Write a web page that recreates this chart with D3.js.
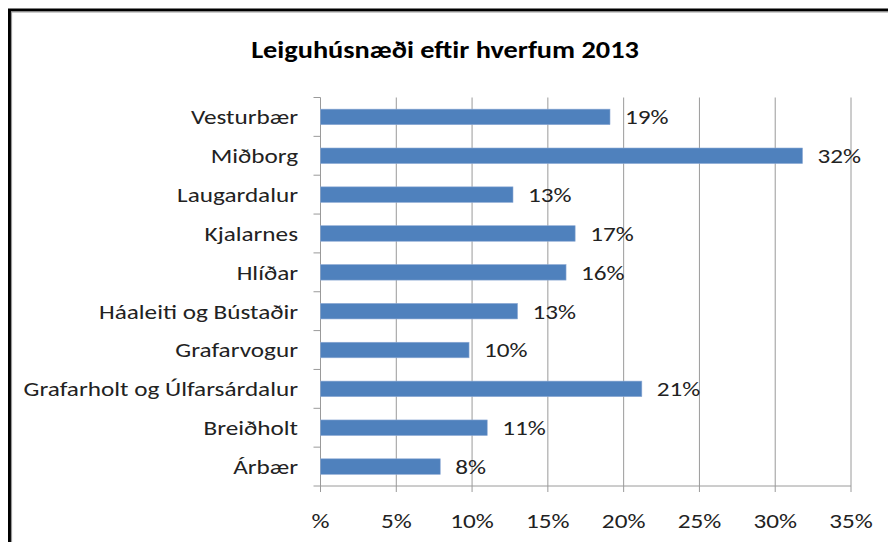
<!DOCTYPE html>
<html>
<head>
<meta charset="utf-8">
<script src="https://cdnjs.cloudflare.com/ajax/libs/d3/7.8.5/d3.min.js"></script>
<style>
  body { margin: 0; background: #fff; }
  svg { display: block; font-family: Carlito, Lato, "Liberation Sans", sans-serif; }
</style>
</head>
<body>
<div id="chart"></div>
<script>
// gögn lesin af myndinni
const hverfi = ['Vesturbær', 'Miðborg', 'Laugardalur', 'Kjalarnes', 'Hlíðar',
    'Háaleiti og Bústaðir', 'Grafarvogur', 'Grafarholt og Úlfarsárdalur', 'Breiðholt', 'Árbær'];
const hlutfall = [0.191, 0.318, 0.127, 0.168, 0.162, 0.130, 0.098, 0.212, 0.110, 0.079];
const gildiMerki = ['19%', '32%', '13%', '17%', '16%', '13%', '10%', '21%', '11%', '8%'];
const xTicks = [0, 0.05, 0.10, 0.15, 0.20, 0.25, 0.30, 0.35];
const xTickLabels = ['%', '5%', '10%', '15%', '20%', '25%', '30%', '35%'];

const W = 888, H = 542;
const sx = 1.2; // letrið í myndinni er breitt
const svg = d3.select('#chart').append('svg').attr('width', W).attr('height', H);

// ramminn
svg.append('rect').attr('x', 9.5).attr('y', 10).attr('width', 900).attr('height', 600)
    .attr('fill', 'none').attr('stroke', '#000').attr('stroke-width', 3);
svg.append('path').attr('d', 'M11.5,560 V12 H900')
    .attr('fill', 'none').attr('stroke', '#9a9a9a').attr('stroke-width', 1.2);

svg.append('text')
    .attr('transform', `translate(445,58) scale(1.18,1)`)
    .attr('text-anchor', 'middle')
    .style('font-size', '24px').style('font-weight', 'bold').style('fill', '#000')
    .text('Leiguhúsnæði eftir hverfum 2013');

const plotTop = 97.5, plotBottom = 486;
const x = d3.scaleLinear().domain([0, 0.35]).range([320.5, 851]);
const y = d3.scaleBand().domain(hverfi).range([plotTop, plotBottom]).paddingInner(0.6).paddingOuter(0.3);
const step = y.step();

// lóðréttar línur
svg.append('g').selectAll('line').data(xTicks).join('line')
    .attr('x1', d => x(d)).attr('x2', d => x(d))
    .attr('y1', plotTop).attr('y2', plotBottom + 6)
    .attr('stroke', '#9a9a9a').attr('stroke-width', 1);

svg.append('line').attr('x1', x(0)).attr('x2', x(0.35)).attr('y1', plotBottom).attr('y2', plotBottom)
    .attr('stroke', '#9a9a9a');

// y ás og merki
const tickYs = d3.range(hverfi.length + 1).map(i => plotTop + i * step);
svg.append('g').selectAll('line').data(tickYs).join('line')
    .attr('x1', x(0) - 7).attr('x2', x(0))
    .attr('y1', d => d).attr('y2', d => d)
    .attr('stroke', '#9a9a9a');

svg.append('g').selectAll('rect').data(hverfi).join('rect')
    .attr('x', x(0))
    .attr('y', d => y(d))
    .attr('width', (d, i) => x(hlutfall[i]) - x(0))
    .attr('height', y.bandwidth())
    .attr('fill', '#4f81bd')
    .attr('stroke', '#8eaad4').attr('stroke-width', 0.6);

svg.append('g').selectAll('text').data(hverfi).join('text')
    .attr('transform', d => `translate(298,${y(d) + y.bandwidth() / 2}) scale(${sx},1)`)
    .attr('dy', '0.35em')
    .attr('text-anchor', 'end')
    .style('font-size', '21px').style('fill', '#222')
    .text(d => d);

svg.append('g').selectAll('text').data(hverfi).join('text')
    .attr('transform', (d, i) => `translate(${x(hlutfall[i]) + 15},${y(d) + y.bandwidth() / 2}) scale(${sx},1)`)
    .attr('dy', '0.35em')
    .style('font-size', '21px').style('fill', '#222')
    .text((d, i) => gildiMerki[i]);

svg.append('g').selectAll('text').data(xTicks).join('text')
    .attr('transform', d => `translate(${x(d)},528) scale(${sx},1)`)
    .attr('text-anchor', 'middle')
    .style('font-size', '21px').style('fill', '#222')
    .text((d, i) => xTickLabels[i]);
</script>
</body>
</html>
